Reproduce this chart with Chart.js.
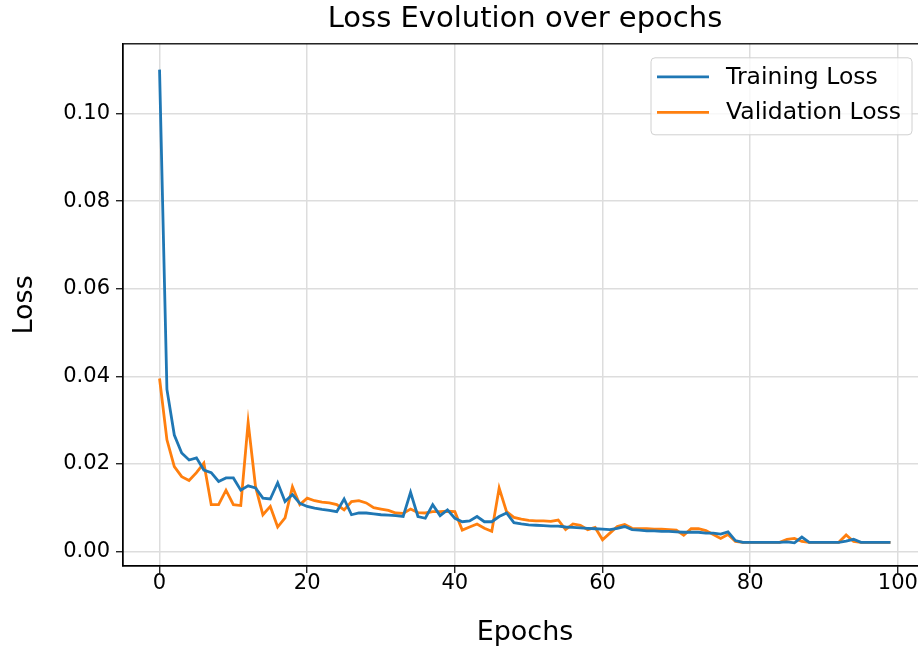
<!DOCTYPE html>
<html>
<head>
<meta charset="utf-8">
<script src="https://cdn.jsdelivr.net/npm/chart.js@4.4.1/dist/chart.umd.min.js"></script>
<style>
  html, body { margin: 0; padding: 0; background: #ffffff; overflow: hidden; }
  #wrap { width: 918px; height: 649px; overflow: hidden; position: relative; }
  #c { position: absolute; left: 0; top: 0; }
</style>
</head>
<body>
<div id="wrap"><canvas id="c" width="930" height="649"></canvas></div>
<script>
const epochs = Array.from({length: 100}, (_, i) => i);
const trainingLoss = [
  0.110, 0.037, 0.0266, 0.0225, 0.0209, 0.0214, 0.0186, 0.0180, 0.0160, 0.0168,
  0.0168, 0.0140, 0.0150, 0.0145, 0.0122, 0.0120, 0.0157, 0.0114, 0.0130, 0.0110,
  0.0103, 0.0099, 0.0096, 0.0094, 0.0091, 0.0120, 0.0084, 0.0088, 0.0088, 0.0086,
  0.0084, 0.0083, 0.0082, 0.0080, 0.0135, 0.0080, 0.0076, 0.0107, 0.0082, 0.0095,
  0.0076, 0.0068, 0.0070, 0.0080, 0.0068, 0.0068, 0.0080, 0.0088, 0.0066, 0.0063,
  0.0061, 0.0060, 0.0059, 0.0058, 0.0058, 0.0056, 0.0055, 0.0054, 0.0053, 0.0052,
  0.0051, 0.0050, 0.0053, 0.0057, 0.0050, 0.0049, 0.0047, 0.0047, 0.0046, 0.0046,
  0.0045, 0.0044, 0.0044, 0.0044, 0.0042, 0.0042, 0.0040, 0.0045, 0.0025, 0.0021,
  0.0021, 0.0021, 0.0021, 0.0021, 0.0021, 0.0022, 0.0020, 0.0033, 0.0021, 0.0021,
  0.0021, 0.0021, 0.0021, 0.0024, 0.0028, 0.0021, 0.0021, 0.0021, 0.0021, 0.0021
];
const validationLoss = [
  0.0395, 0.0255, 0.0194, 0.0171, 0.0162, 0.0180, 0.0202, 0.0107, 0.0107, 0.0140,
  0.0107, 0.0105, 0.0295, 0.0148, 0.0084, 0.0103, 0.0056, 0.0077, 0.0148, 0.0107,
  0.0122, 0.0116, 0.0113, 0.0111, 0.0107, 0.0095, 0.0114, 0.0116, 0.0111, 0.0100,
  0.0097, 0.0094, 0.0088, 0.0087, 0.0097, 0.0089, 0.0088, 0.0091, 0.0091, 0.0092,
  0.0091, 0.0049, 0.0056, 0.0063, 0.0053, 0.0046, 0.0145, 0.0091, 0.0078, 0.0074,
  0.0071, 0.0070, 0.0070, 0.0069, 0.0072, 0.0050, 0.0063, 0.0060, 0.0050, 0.0055,
  0.0027, 0.0042, 0.0057, 0.0062, 0.0053, 0.0052, 0.0052, 0.0051, 0.0051, 0.0050,
  0.0049, 0.0037, 0.0052, 0.0052, 0.0048, 0.0039, 0.0030, 0.0039, 0.0023, 0.0021,
  0.0021, 0.0021, 0.0021, 0.0021, 0.0021, 0.0028, 0.0030, 0.0023, 0.0021, 0.0021,
  0.0021, 0.0021, 0.0021, 0.0038, 0.0023, 0.0021, 0.0021, 0.0021, 0.0021, 0.0021
];
const xTicks = [0, 20, 40, 60, 80, 100];
const yTicks = [0.00, 0.02, 0.04, 0.06, 0.08, 0.10];
const seriesNames = ['Training Loss', 'Validation Loss'];
const titleText = 'Loss Evolution over epochs';
const xLabel = 'Epochs';
const yLabel = 'Loss';

const FONT = "'DejaVu Sans', sans-serif";
const BLUE = '#1f77b4';
const ORANGE = '#ff7f0e';
const TICK_SIZE = 21;
const LEGEND_SIZE = 23.5;
const LABEL_SIZE = 27;

const framePlugin = {
  id: 'frame',
  afterDatasetsDraw(chart) {
    const {ctx, chartArea: a} = chart;
    ctx.save();
    ctx.strokeStyle = '#000';
    ctx.lineWidth = 1.3;
    ctx.strokeRect(a.left, a.top, a.right - a.left, a.bottom - a.top);
    ctx.restore();
  }
};

const boxLegendPlugin = {
  id: 'boxLegend',
  afterDraw(chart) {
    const {ctx, chartArea: a} = chart;
    const right = a.right - 15, top = a.top + 14;
    const w = 261, h = 77;
    const left = right - w;
    ctx.save();
    ctx.beginPath();
    const r = 4;
    ctx.moveTo(left + r, top);
    ctx.lineTo(right - r, top);
    ctx.quadraticCurveTo(right, top, right, top + r);
    ctx.lineTo(right, top + h - r);
    ctx.quadraticCurveTo(right, top + h, right - r, top + h);
    ctx.lineTo(left + r, top + h);
    ctx.quadraticCurveTo(left, top + h, left, top + h - r);
    ctx.lineTo(left, top + r);
    ctx.quadraticCurveTo(left, top, left + r, top);
    ctx.closePath();
    ctx.fillStyle = 'rgba(255,255,255,0.8)';
    ctx.fill();
    ctx.strokeStyle = '#d0d0d0';
    ctx.lineWidth = 1;
    ctx.stroke();
    chart.data.datasets.forEach((ds, i) => {
      const y = top + 19 + i * 35.5;
      ctx.beginPath();
      ctx.strokeStyle = ds.borderColor;
      ctx.lineWidth = 2.8;
      ctx.moveTo(left + 6, y);
      ctx.lineTo(left + 58, y);
      ctx.stroke();
      ctx.fillStyle = '#000';
      ctx.font = LEGEND_SIZE + 'px ' + FONT;
      ctx.textAlign = 'left';
      ctx.textBaseline = 'middle';
      ctx.fillText(ds.label, left + 75, y + 1);
    });
    ctx.restore();
  }
};

new Chart(document.getElementById('c'), {
  type: 'line',
  data: {
    datasets: [
      {
        label: seriesNames[0],
        data: epochs.map((e, i) => ({x: e, y: trainingLoss[i]})),
        borderColor: BLUE,
        backgroundColor: BLUE,
        borderWidth: 2.8,
        pointRadius: 0,
        tension: 0,
        fill: false
      },
      {
        label: seriesNames[1],
        data: epochs.map((e, i) => ({x: e, y: validationLoss[i]})),
        borderColor: ORANGE,
        backgroundColor: ORANGE,
        borderWidth: 2.8,
        pointRadius: 0,
        tension: 0,
        fill: false
      }
    ]
  },
  options: {
    responsive: false,
    animation: false,
    devicePixelRatio: 1,
    layout: { padding: { left: 0, right: 3, top: 0, bottom: 0 } },
    plugins: {
      legend: { display: false },
      tooltip: { enabled: false },
      title: {
        display: true,
        fullSize: false,
        text: titleText,
        color: '#000',
        font: { family: FONT, size: 29, weight: 'normal' },
        padding: { top: 2, bottom: 7 }
      }
    },
    scales: {
      x: {
        type: 'linear',
        min: -4.95,
        max: 103.95,
        afterBuildTicks: (s) => { s.ticks = xTicks.map(v => ({value: v})); },
        afterFit: (s) => { s.height = 83; },
        ticks: {
          color: '#000',
          font: { family: FONT, size: TICK_SIZE },
          padding: -2,
          maxRotation: 0,
          callback: (v) => String(v)
        },
        grid: {
          color: '#dddddd',
          lineWidth: 1.5,
          tickColor: '#000',
          tickLength: 7,
          tickWidth: 1.2
        },
        border: { display: true, color: '#000', width: 1.3 },
        title: {
          display: true,
          text: xLabel,
          color: '#000',
          font: { family: FONT, size: LABEL_SIZE },
          padding: { top: 4, bottom: 0 }
        }
      },
      y: {
        type: 'linear',
        min: -0.0033,
        max: 0.1159,
        afterBuildTicks: (s) => { s.ticks = yTicks.map(v => ({value: v})); },
        afterFit: (s) => { s.width = 123; },
        ticks: {
          color: '#000',
          font: { family: FONT, size: TICK_SIZE },
          padding: 6,
          callback: (v) => Number(v).toFixed(2)
        },
        grid: {
          color: '#dddddd',
          lineWidth: 1.5,
          tickColor: '#000',
          tickLength: 7,
          tickWidth: 1.2
        },
        border: { display: true, color: '#000', width: 1.3 },
        title: {
          display: true,
          text: yLabel,
          color: '#000',
          font: { family: FONT, size: LABEL_SIZE },
          padding: { top: 9, bottom: 0 }
        }
      }
    }
  },
  plugins: [framePlugin, boxLegendPlugin]
});
</script>
</body>
</html>
